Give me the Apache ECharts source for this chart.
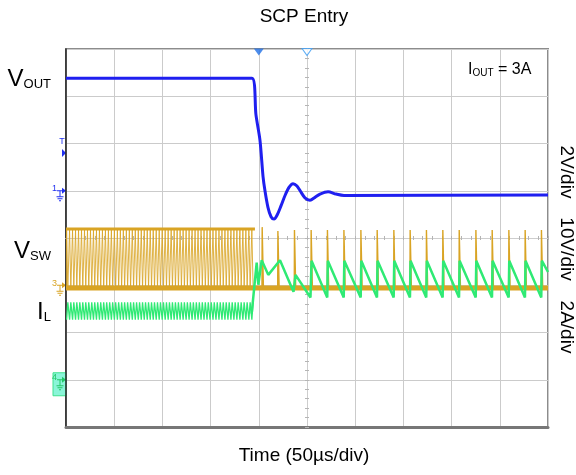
<!DOCTYPE html>
<html>
<head>
<meta charset="utf-8">
<script src="https://cdn.jsdelivr.net/npm/echarts@6/dist/echarts.min.js"></script>
<style>
  html, body { margin: 0; padding: 0; background: #fff; }
  #chart { width: 576px; height: 475px; }
</style>
</head>
<body>
<div id="chart"></div>
<script>
// time in µs (50µs/div), amplitude in scope divisions (0 = bottom graticule line)

// VOUT (ch1)
const voutTime = [0, 192.9, 197.1, 201.2, 204.4, 206.4, 209.5, 212.7, 215.8, 218.9, 223.0, 227.2,
  231.3, 235.5, 239.6, 243.8, 247.9, 253.1, 258.3, 263.5, 271.8, 280.1, 288.4, 500];
const voutDiv = [7.38, 7.38, 6.6, 6.07, 5.3, 5.0, 4.65, 4.45, 4.40, 4.48, 4.68, 4.90,
  5.07, 5.15, 5.10, 4.97, 4.85, 4.80, 4.86, 4.93, 4.98, 4.93, 4.90, 4.91];

// VSW (ch3) normal switching before the short, rising edges
const swPulseStart = [0.6, 3.7, 6.8, 9.9, 13.0, 16.1, 19.2, 22.3, 25.4, 28.5, 31.6, 34.7, 37.8,
  40.9, 44.0, 47.1, 50.2, 53.3, 56.4, 59.5, 62.6, 65.7, 68.8, 71.9, 75.0, 78.1, 81.2, 84.3, 87.4,
  90.5, 93.6, 96.7, 99.8, 102.9, 106.0, 109.1, 112.2, 115.3, 118.4, 121.5, 124.6, 127.7, 130.8,
  133.9, 137.0, 140.1, 143.2, 146.3, 149.4, 152.5, 155.6, 158.7, 161.8, 164.9, 168.0, 171.1,
  174.2, 177.3, 180.4, 183.5, 186.6, 189.7, 192.8];
const swPulseWidth = 1.3;
const swLevels = [2.94, 4.18];          // low, high
const swStopTime = 197;
// hiccup spikes after the short
const swSpikeTime = [203.3, 219.6, 236.8, 254.1, 271.0, 288.1, 305.7, 322.6, 339.9, 356.8, 373.7,
  390.7, 407.7, 425.0, 441.9, 459.2, 476.1, 493.0];
const swSpikeTop = [4.23, 4.15, 4.17, 4.17, 4.17, 4.17, 4.17, 4.17, 4.17, 4.17, 4.17,
  4.17, 4.17, 4.17, 4.17, 4.17, 4.17, 4.17];

// IL (ch4)
const ilRipple = [2.27, 2.64];          // trough, peak during normal switching
const ilTransTime = [192.6, 197.8, 199.5, 203.0, 209.8, 222.0, 236.0, 238.1, 253.6];
const ilTransDiv = [2.40, 3.48, 3.01, 3.53, 3.22, 3.53, 2.86, 3.22, 2.74];
const ilSaw = [2.74, 3.52];             // trough, peak of the sawtooth
const ilEnd = [500, 3.28];

const triggerTime = [200, 250];
const chanMarkDiv = [5.8, 5, 3, 1];     // T, ch1 gnd, ch3 gnd, ch4 gnd

// build series tables
const [swLo, swHi] = swLevels;
const vswPre = [];
swPulseStart.forEach(s => {
  vswPre.push([s, swLo], [s, swHi], [s + swPulseWidth, swHi], [s + swPulseWidth, swLo]);
});
vswPre.push([swStopTime, swLo]);
const vswPost = [[swStopTime, swLo]];
swSpikeTime.forEach((s, i) => {
  vswPost.push([s, swLo], [s + 0.2, swSpikeTop[i]], [s + 0.8, swSpikeTop[i]], [s + 1.5, swLo]);
});
vswPost.push([500, swLo]);

const ilPre = [];
swPulseStart.forEach(s => {
  ilPre.push([s, ilRipple[0]], [s + swPulseWidth, ilRipple[1]]);
});
const ilPost = ilTransTime.map((t, i) => [t, ilTransDiv[i]]);
swSpikeTime.filter(t => t > ilTransTime[ilTransTime.length - 1]).forEach(s => {
  ilPost.push([s, ilSaw[0]], [s + 0.6, ilSaw[1]]);
});
ilPost.push(ilEnd);

const vout = voutTime.map((t, i) => [t, voutDiv[i]]);

const font = "'Liberation Sans', Arial, Helvetica, sans-serif";
const cBlue = '#1f1ff0';
const cGold = '#d9a424';
const cGreen = '#2fea74';

const chart = echarts.init(document.getElementById('chart'));

const lineBase = { type: 'line', showSymbol: false, symbol: 'none', animation: false };
const hidden = { show: false };

function crossAxis(dim, inside, offset) {
  const ax = {
    type: 'value', min: 0, max: dim === 'x' ? 500 : 8, interval: dim === 'x' ? 50 : 1,
    position: dim === 'x' ? 'bottom' : 'left', offset: offset,
    axisLabel: hidden, splitLine: hidden,
    axisLine: { show: true, lineStyle: { color: '#cdcdcd', width: 1 } },
    axisTick: { show: true, inside: inside, length: 2, lineStyle: { color: '#b5b5b5' } },
    minorTick: { show: true, splitNumber: 5, length: 2, lineStyle: { color: '#b5b5b5' } }
  };
  return ax;
}

chart.setOption({
  animation: false,
  grid: {
    left: 66, top: 49, width: 482, height: 378,
    show: true, borderColor: '#8c8c8c', borderWidth: 2,
    outerBoundsMode: 'none'
  },
  xAxis: [
    {
      type: 'value', min: 0, max: 500, interval: 50,
      axisLabel: hidden, axisTick: hidden,
      axisLine: { lineStyle: { color: '#777', width: 3 } },
      splitLine: { lineStyle: { color: '#cbcbcb', width: 1 } }
    },
    crossAxis('x', false, -189),
    crossAxis('x', true, -189)
  ],
  yAxis: [
    {
      type: 'value', min: 0, max: 8, interval: 1,
      axisLabel: hidden, axisTick: hidden,
      axisLine: { show: true, lineStyle: { color: '#222', width: 1.5 } },
      splitLine: { lineStyle: { color: '#cbcbcb', width: 1 } }
    },
    crossAxis('y', false, -241),
    crossAxis('y', true, -241)
  ],
  series: [
    {
      ...lineBase, name: 'VSW band high', z: 3,
      data: [[0, swHi + 0.01], [swStopTime - 1, swHi + 0.01]],
      lineStyle: { color: cGold, width: 3 }
    },
    {
      ...lineBase, name: 'VSW band low', z: 3,
      data: [[0, swLo], [500, swLo]],
      lineStyle: { color: cGold, width: 5 }
    },
    {
      ...lineBase, name: 'VSW', z: 3, data: vswPre,
      lineStyle: { color: cGold, width: 1, opacity: 0.85 }
    },
    {
      ...lineBase, name: 'VSW post', z: 3, data: vswPost,
      lineStyle: { color: cGold, width: 1.4 }
    },
    {
      ...lineBase, name: 'IL', z: 4, data: ilPre,
      lineStyle: { color: cGreen, width: 1.3 }
    },
    {
      ...lineBase, name: 'IL post', z: 4, data: ilPost,
      lineStyle: { color: cGreen, width: 2.5 }
    },
    {
      ...lineBase, name: 'VOUT', z: 5, data: vout, smooth: 0.3,
      lineStyle: { color: cBlue, width: 3 }
    },
    {
      type: 'scatter', name: 'trigger', z: 6, clip: false, animation: false,
      symbol: 'triangle', symbolRotate: 180, symbolSize: [10, 7], symbolOffset: [0, 3],
      data: [
        { value: [triggerTime[0], 8], itemStyle: { color: '#1f6fe6' } },
        { value: [triggerTime[1], 8], itemStyle: { color: '#fff', borderColor: '#3c9cf2', borderWidth: 1 } }
      ]
    }
  ]
});

// text and channel markers
function chanMark(num, div, color, boxed) {
  const y = chart.convertToPixel({ gridIndex: 0 }, [0, div])[1];
  const els = [];
  if (boxed) {
    els.push({ type: 'rect', shape: { x: 53, y: y - 7, width: 13, height: 23 },
      style: { fill: '#8af5d8', stroke: '#3fe28e', lineWidth: 1 } });
  }
  els.push({ type: 'text', x: 57, y: y - 2,
    style: { text: String(num), fontSize: 9, fontFamily: font, fill: color, align: 'right', verticalAlign: 'middle' } });
  els.push({ type: 'polyline', shape: { points: [[57, y], [63, y]] }, style: { stroke: color, lineWidth: 1 } });
  els.push({ type: 'polygon', shape: { points: [[62, y - 3], [66, y], [62, y + 3]] }, style: { fill: color } });
  els.push({ type: 'polyline', shape: { points: [[60, y], [60, y + 6]] }, style: { stroke: color, lineWidth: 1 } });
  [[56.5, 63.5, 6], [57.5, 62.5, 8], [59, 61, 10]].forEach(([a, b, d]) => {
    els.push({ type: 'polyline', shape: { points: [[a, y + d], [b, y + d]] }, style: { stroke: color, lineWidth: 1 } });
  });
  return els;
}

const tY = chart.convertToPixel({ gridIndex: 0 }, [0, chanMarkDiv[0]])[1];
const big = { fontSize: 24, fontFamily: font, fill: '#000', verticalAlign: 'bottom' };
const sub = { fontSize: 13, fontFamily: font, fill: '#000', verticalAlign: 'bottom' };

const graphic = [
  { type: 'text', x: 304, y: 17, style: { text: 'SCP Entry', fontSize: 19, fontFamily: font, fill: '#000', align: 'center', verticalAlign: 'middle' } },
  { type: 'text', x: 304, y: 456, style: { text: 'Time (50µs/div)', fontSize: 19, fontFamily: font, fill: '#000', align: 'center', verticalAlign: 'middle' } },
  { type: 'text', x: 51, y: 79, style: { text: '{v|V}{s|OUT}', align: 'right', verticalAlign: 'middle', rich: { v: big, s: sub } } },
  { type: 'text', x: 51, y: 251, style: { text: '{v|V}{s|SW}', align: 'right', verticalAlign: 'middle', rich: { v: big, s: sub } } },
  { type: 'text', x: 51, y: 312, style: { text: '{v|I}{s|L}', align: 'right', verticalAlign: 'middle', rich: { v: big, s: sub } } },
  { type: 'text', x: 468, y: 70, style: {
      text: '{v|I}{s|OUT}{v| = 3A}', align: 'left', verticalAlign: 'middle',
      rich: { v: { fontSize: 16, fontFamily: font, fill: '#000', verticalAlign: 'bottom' },
              s: { fontSize: 10, fontFamily: font, fill: '#000', verticalAlign: 'bottom' } } } },
  { type: 'text', x: 566, y: 172, rotation: -Math.PI / 2, style: { text: '2V/div', fontSize: 19, fontFamily: font, fill: '#000', align: 'center', verticalAlign: 'middle' } },
  { type: 'text', x: 566, y: 249, rotation: -Math.PI / 2, style: { text: '10V/div', fontSize: 19, fontFamily: font, fill: '#000', align: 'center', verticalAlign: 'middle' } },
  { type: 'text', x: 566, y: 327, rotation: -Math.PI / 2, style: { text: '2A/div', fontSize: 19, fontFamily: font, fill: '#000', align: 'center', verticalAlign: 'middle' } },
  // trigger level marker
  { type: 'text', x: 62, y: tY - 11, style: { text: 'T', fontSize: 9, fontFamily: font, fill: '#2030f0', align: 'center', verticalAlign: 'middle' } },
  { type: 'polygon', shape: { points: [[62, tY - 4], [66, tY], [62, tY + 4]] }, style: { fill: '#2030f0' } },
  ...chanMark(1, chanMarkDiv[1], '#2030f0', false),
  ...chanMark(3, chanMarkDiv[2], cGold, false),
  ...chanMark(4, chanMarkDiv[3], '#22c866', true)
];

chart.setOption({ graphic: graphic });
</script>
</body>
</html>
